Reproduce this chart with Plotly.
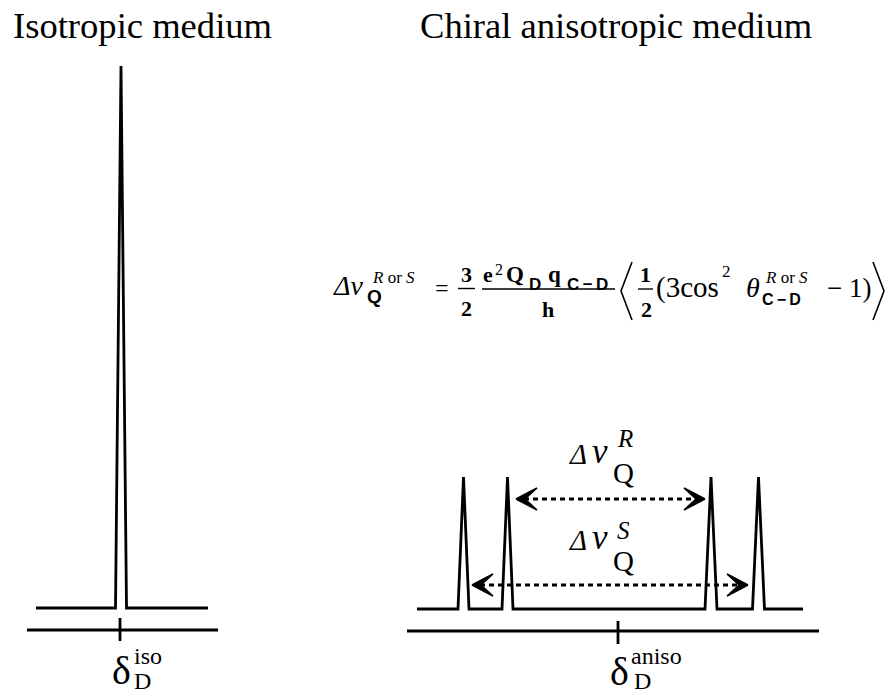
import plotly.graph_objects as go

# ---------------- data (schematic, figure-pixel coordinates) ----------------
titles = ["Isotropic medium", "Chiral anisotropic medium"]
title_x = [12, 419]
title_baseline = 38

# isotropic spectrum
iso_shift = [120]                 # position of delta_D^iso tick
iso_peaks = [121.0]               # single line
iso_peak_halfwidth = [5.5]
iso_peak_top = [66]
iso_baseline_x = [36, 208]
iso_baseline_y = 608
iso_axis_x = [27, 218]

# anisotropic spectrum (two doublets R and S)
aniso_shift = [618]               # position of delta_D^aniso tick
aniso_peaks = [463.5, 507.5, 711.0, 758.5]
aniso_peak_halfwidth = [5.5, 5.5, 6.0, 6.0]
aniso_peak_top = [477, 477, 477, 477]
aniso_baseline_x = [417, 803]
aniso_baseline_y = 609
aniso_axis_x = [407, 819]
axis_y = 630

# quadrupolar splittings (arrow start, arrow end, level)
splitting_names = ["R", "S"]
splitting_from = [516, 472]
splitting_to = [705, 748]
splitting_y = [499, 585]
splitting_label_base = [464, 550]

SERIF = "Liberation Serif"
SANS = "Liberation Sans"
BLACK = "black"

fig = go.Figure()


def line(xs, ys, width=2.8, dash=None, fill=None):
    fig.add_trace(go.Scatter(
        x=xs, y=ys, mode="lines",
        line=dict(color=BLACK, width=width, dash=dash),
        fill=fill, fillcolor=BLACK if fill else None,
        hoverinfo="skip", showlegend=False))


def T(x, base, s, size, family=SERIF, anchor="left"):
    k = 0.345 if family == SANS else 0.34
    fig.add_annotation(
        x=x, y=base - k * size, xref="x", yref="y", text=s,
        showarrow=False, xanchor=anchor, yanchor="middle", borderpad=0,
        font=dict(family=family, size=size, color=BLACK))


def spectrum(x0, x1, base, peaks, hws, tops):
    xs, ys = [x0], [base]
    for p, hw, t in zip(peaks, hws, tops):
        xs += [p - hw, p, p + hw]
        ys += [base, t, base]
    xs.append(x1)
    ys.append(base)
    line(xs, ys, width=2.8)


# spectra
spectrum(iso_baseline_x[0], iso_baseline_x[1], iso_baseline_y,
         iso_peaks, iso_peak_halfwidth, iso_peak_top)
spectrum(aniso_baseline_x[0], aniso_baseline_x[1], aniso_baseline_y,
         aniso_peaks, aniso_peak_halfwidth, aniso_peak_top)

# chemical shift axes with ticks
line(iso_axis_x, [axis_y, axis_y], width=2.8)
line([iso_shift[0], iso_shift[0]], [618, 641], width=2.8)
line(aniso_axis_x, [axis_y + 1, axis_y + 1], width=2.8)
line([aniso_shift[0], aniso_shift[0]], [621, 644], width=2.8)

# splitting arrows (dotted shaft + barbed heads)
for a, b, y in zip(splitting_from, splitting_to, splitting_y):
    line([a + 8, b - 8], [y, y], width=3, dash="5px,4px")
    line([a, a + 21, a + 9, a + 21, a], [y, y - 11, y, y + 11, y],
         width=1.5, fill="toself")
    line([b, b - 21, b - 9, b - 21, b], [y, y - 11, y, y + 11, y],
         width=1.5, fill="toself")

# titles
for t, x in zip(titles, title_x):
    T(x, title_baseline, t, 36.6)

# splitting labels
for name, ybase in zip(splitting_names, splitting_label_base):
    T(568, ybase, "<i>Δ</i>", 29)
    T(591, ybase - 1, "<i>ν</i>", 35)
    T(616, ybase - 17 if name == "R" else ybase - 11, "<i>%s</i>" % name, 25)
    T(612, ybase + 19 if name == "R" else ybase + 21, "Q", 29)

# chemical shift labels
T(iso_shift[0] + 1, 684, "δ", 40, anchor="center")
T(133, 664, "iso", 24)
T(133, 689, "D", 24)
T(aniso_shift[0] + 1, 685, "δ", 40, anchor="center")
T(630, 664, "aniso", 24)
T(633, 689, "D", 24)

# ---------------- formula ----------------
T(332, 295, "<i>Δν</i>", 28)
T(371, 283, "<i>R</i> or <i>S</i>", 17)
T(366, 303, "<b>Q</b>", 19, SANS)
T(442, 296, "=", 24, anchor="center")
T(466, 282, "<b>3</b>", 22, anchor="center")
T(466, 316, "<b>2</b>", 22, anchor="center")
line([458, 475], [288.5, 288.5], width=1.4)
T(482, 282, "<b>e</b>", 22)
T(494, 275, "2", 16)
T(505, 282, "<b>Q</b>", 23)
T(528, 290, "<b>D</b>", 17, SANS)
T(547, 282, "<b>q</b>", 23)
T(566, 290, "<b>C\u2009−\u2009D</b>", 17, SANS)
line([482, 615], [289, 289], width=1.4)
T(548, 317, "<b>h</b>", 22, anchor="center")
line([632, 621, 632], [262, 291, 320], width=1.6)
T(645, 282, "<b>1</b>", 22, anchor="center")
T(646, 317, "<b>2</b>", 22, anchor="center")
line([638, 653], [289, 289], width=1.4)
T(655, 297, "(3cos", 29)
T(721, 277, "2", 17)
T(745, 297, "<i>θ</i>", 28)
T(764, 283, "<i>R</i> or <i>S</i>", 17)
T(761, 305, "<b>C\u2009−\u2009D</b>", 16, SANS)
T(826, 297, "− 1)", 27)
line([873, 884, 873], [262, 291, 320], width=1.6)

fig.update_layout(
    width=889, height=696,
    margin=dict(l=0, r=0, t=0, b=0),
    paper_bgcolor="white", plot_bgcolor="white",
    showlegend=False,
    xaxis=dict(range=[0, 889], visible=False, fixedrange=True),
    yaxis=dict(range=[696, 0], visible=False, fixedrange=True),
)

fig.write_html("out.html", config={"displayModeBar": False},
               post_script="document.body.style.margin='0';")
